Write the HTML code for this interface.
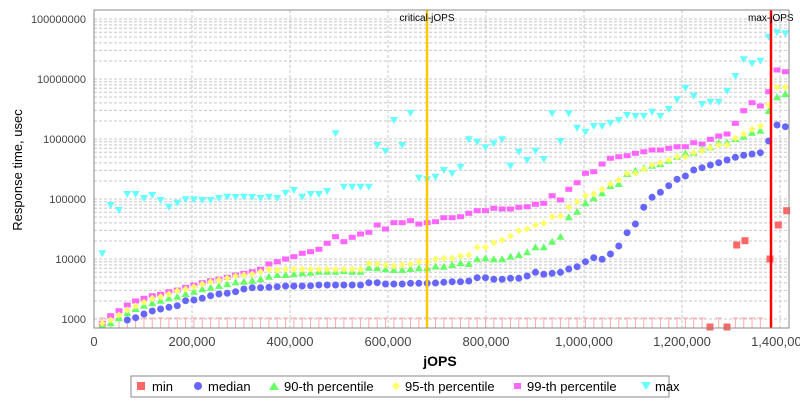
<!DOCTYPE html>
<html><head><meta charset="utf-8"><style>
body{margin:0;background:#fff;width:800px;height:400px;overflow:hidden;font-family:"Liberation Sans",sans-serif}
</style></head><body>
<svg id="s" width="800" height="400" xmlns="http://www.w3.org/2000/svg" font-family="Liberation Sans, sans-serif">
<rect x="0" y="0" width="800" height="400" fill="#fff"/>
<g id="grid" stroke="#c8c8c8" stroke-width="1" stroke-dasharray="3,2"></g>
<g id="pts"></g>
<line x1="427" y1="10" x2="427" y2="328" stroke="#ffc800" stroke-width="2.5"/>
<line x1="771" y1="10" x2="771" y2="328" stroke="#ff0000" stroke-width="2.5"/>
<text x="427" y="21" font-size="10" text-anchor="middle" fill="#000">critical-jOPS</text>
<text x="748" y="21" font-size="10" fill="#000">max-jOPS</text>
<rect x="94" y="10" width="695" height="318" fill="none" stroke="#888" stroke-width="1"/>
<g font-size="11" fill="#444" text-anchor="end">
<text x="86" y="23">100000000</text><text x="86" y="83">10000000</text><text x="86" y="143">1000000</text>
<text x="86" y="203">100000</text><text x="86" y="263">10000</text><text x="86" y="323">1000</text>
</g>
<g font-size="13" fill="#444" text-anchor="middle">
<text x="94" y="346">0</text><text x="192" y="346">200,000</text><text x="290" y="346">400,000</text>
<text x="388" y="346">600,000</text><text x="486" y="346">800,000</text><text x="584" y="346">1,000,000</text>
<text x="682" y="346">1,200,000</text><text x="780" y="346">1,400,000</text>
</g>
<text x="440" y="366" font-size="14" font-weight="bold" text-anchor="middle" fill="#000">jOPS</text>
<text transform="translate(22,170) rotate(-90)" font-size="13" text-anchor="middle" fill="#000">Response time, usec</text>
<rect x="131" y="376" width="538" height="21" fill="#fff" stroke="#888"/>
<g font-size="13" fill="#000">
<rect x="137" y="382" width="8" height="8" fill="#ff6666"/><text x="152" y="391">min</text>
<circle cx="198" cy="386" r="4" fill="#6666ff"/><text x="208" y="391">median</text>
<polygon points="274,382 279,390 269,390" fill="#66ff66"/><text x="284" y="391">90-th percentile</text>
<polygon points="396,382 400,386 396,390 392,386" fill="#ffff66"/><text x="405" y="391">95-th percentile</text>
<rect x="514" y="383" width="7" height="6" fill="#ff66ff"/><text x="527" y="391">99-th percentile</text>
<polygon points="641,382 651,382 646,390" fill="#66ffff"/><text x="655" y="391">max</text>
</g>
</svg>
<script>
var NS="http://www.w3.org/2000/svg",g=document.getElementById('grid'),P=document.getElementById('pts');
function ln(a,b,c,d){var l=document.createElementNS(NS,'line');l.setAttribute('x1',a);l.setAttribute('y1',b);l.setAttribute('x2',c);l.setAttribute('y2',d);g.appendChild(l);}
for(var i=1;i<8;i++)ln(94+98*i,10,94+98*i,328);
for(var d=0;d<6;d++)for(var k=1;k<10;k++){var y=319-60*d-60*Math.log10(k);if(y>10&&y<328)ln(94,y,789,y);}
function el(t,at){var e=document.createElementNS(NS,t);for(var k in at)e.setAttribute(k,at[k]);P.appendChild(e);}
var mx=[253.3,205,210,194,194,198,195,200,206.7,202.7,199.3,199.3,200,200,198,196.7,197,196.7,197,198,196.7,198,192.7,190,196.7,194,194,191,133.3,186.7,186.7,186.7,186.7,145,151,120,145,112.7,177.7,179.3,176.7,170,173.3,166.7,139.3,141.7,147.3,143.3,139.3,165.7,151.7,160,150.7,159,113.3,141,113.3,127.7,131.7,126,126,122.7,120,115,116,116,111.7,116,109,99.3,87.7,95.7,104,101.7,101.7,90.7,76,59.3,63.3,60.7,36.7,32.3,33.3];
var med=[335,330,326,320,317.7,314,311,309,307.3,305.7,300.7,300,298.3,295.7,294,293.3,291.7,289,287.7,287.7,287.3,286.7,286,286,286,285.7,285,285,285,285,285,285,282.7,282.7,284,284,284,283.3,283.3,283.3,283,282.3,281.7,281.7,281,277.7,277.7,279.3,279.3,278.3,278.3,276,272.3,274.3,273.3,272.3,269,266.7,261.7,257.7,259.3,254,246,232.7,224,207.3,197.3,192.3,185.7,179.3,176,170,167.7,165,162.7,160,157.3,155.3,154,152.7,141,125,126.7];
var p90=[325,323.3,318.3,313.3,309,305.7,303.3,300.7,298.3,296.7,294,291.7,289.3,287.7,286,284.3,282.3,281.7,280.7,279.3,276.7,275,275,274.3,273.3,272.7,271.7,271.7,271.7,271,271.7,271.7,267.7,268.3,269.3,270,270,269,268.3,268.3,266.5,266.7,265,263.3,264,259.3,258.3,259.3,259.3,256.7,255,252.3,247.3,247.3,241.7,236.7,217.3,211.7,203.3,198.3,193.3,186,184,174,170.7,168.3,165.7,164,160.7,156.7,153.3,152.7,149.3,147.3,142.7,142.7,139,136.7,132.7,130.7,111,97.3,94];
var p95=[323.3,320,315,310,306,302.3,298.3,296.7,294,290.7,289,286.7,284,281.7,280,278.3,276,275,274,271.7,269.3,270,269.3,269.3,269.3,269.3,269.3,269.3,269.3,269.3,269.3,269.3,263.3,264,265,266,265,264,261.7,261.7,259,258.3,258.3,256,255,247.3,247.3,242.7,240,236,230.7,229,225,223.3,216.7,216,207.3,201.7,195.7,194,189.3,184,180,173.3,173.3,169.3,165,162.7,160,156.7,156.7,152.7,150.7,148,145,145,138.3,134,129.3,126,105,87.3,87.3];
var p99=[323.3,315.7,310.7,305,301,298.3,295.7,294.3,291.7,290,287.3,285,282.7,280.7,279,277.3,275,273.3,271.7,269.3,264,261.7,259,256.7,253.3,251.7,249.3,243.3,236.7,241.7,237.3,234,232.3,225,229,222.7,222.7,220.7,224,222.7,221.7,217.7,217.7,216.7,213.3,210.7,210.7,208.3,209,209,207.3,206.7,204.3,203.3,195.7,200,189.3,182.7,173.3,171.7,164,158.3,156.7,155.7,153.3,151.7,150,150,148.3,146.7,146.7,142.7,144,139.3,136,134,123.3,110.7,102.7,106,91.7,70,71.7];
for(var i=0;i<83;i++){var x=102.3+i*8.33;
 if(i<80&&i!=73&&i!=75){el('line',{x1:x,y1:318,x2:x,y2:328,stroke:'#ffaaaa','stroke-width':1});el('line',{x1:x-3,y1:318,x2:x+3,y2:318,stroke:'#ffaaaa','stroke-width':1});}
}
for(var i=0;i<83;i++){var x=102.3+i*8.33;
 var yx=mx[i];el('polygon',{points:(x-4)+','+(yx-3)+' '+(x+4)+','+(yx-3)+' '+x+','+(yx+4),fill:'#66ffff'});
 var y99=p99[i];el('rect',{x:x-3.5,y:y99-2.5,width:7,height:5,fill:'#ff66ff'});
 var y9=p90[i];el('polygon',{points:x+','+(y9-4)+' '+(x+4)+','+(y9+3)+' '+(x-4)+','+(y9+3),fill:'#66ff66'});
 var y5=p95[i];el('polygon',{points:x+','+(y5-3.5)+' '+(x+3.5)+','+y5+' '+x+','+(y5+3.5)+' '+(x-3.5)+','+y5,fill:'#ffff66'});
 var ym=med[i];if(ym<326)el('circle',{cx:x,cy:ym,r:3.5,fill:'#6666ff'});
}
[[710,327],[727,327],[736.7,245],[745,240.7],[770,259],[778.3,225],[786.7,210.7]].forEach(function(p){el('rect',{x:p[0]-3.5,y:p[1]-3.5,width:7,height:7,fill:'#ff6666'});});
</script>
</body></html>
